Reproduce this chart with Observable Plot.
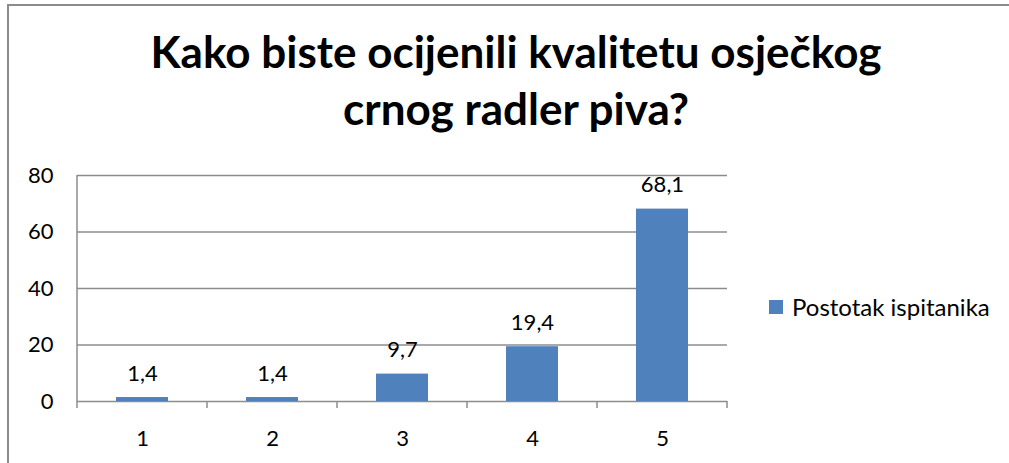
<!DOCTYPE html>
<html>
<head>
<meta charset="utf-8">
<script src="https://cdn.jsdelivr.net/npm/d3@7"></script>
<script src="https://cdn.jsdelivr.net/npm/@observablehq/plot@0.6"></script>
<style>
  html, body { margin: 0; padding: 0; background: #fff; overflow: hidden; }
  #wrap { position: relative; width: 1009px; height: 463px; overflow: hidden; font-family: Lato, "Open Sans", sans-serif; }
  #frame { position: absolute; left: 7px; top: 4px; width: 1100px; height: 600px; border-left: 2px solid #8c8c8c; border-top: 2px solid #8c8c8c; }
  #title { position: absolute; left: 0; width: 1032px; top: 23px; text-align: center; font-weight: bold; font-size: 44px; line-height: 57px; color: #000; }
  #chart { position: absolute; left: 0; top: 0; }
  #legend { position: absolute; left: 769px; top: 293px; font-size: 24px; line-height: 28px; color: #000; display: flex; align-items: center; white-space: nowrap; }
  #legend .sw { width: 14px; height: 14px; background: #4f81bd; margin-right: 9px; }
</style>
</head>
<body>
<div id="wrap">
  <div id="frame"></div>
  <div id="chart"></div>
  <div id="title">Kako biste ocijenili kvalitetu osječkog<br>crnog radler piva?</div>
  <div id="legend"><div class="sw"></div><span id="legendText"></span></div>
</div>
<script>
const categories = ["1", "2", "3", "4", "5"];
const values = [1.4, 1.4, 9.7, 19.4, 68.1];
const yTicks = [0, 20, 40, 60, 80];
const seriesName = "Postotak ispitanika";

const data = categories.map((c, i) => ({ cat: c, value: values[i] }));
const fmt = v => d3.format(".1f")(v).replace(".", ",");
const gray = "#8c8c8c";

document.getElementById("legendText").textContent = seriesName;

// boundary tick marks + left spine, derived from the band scale
function bandTicks(index, scales, values, dimensions) {
  const x = scales.x, y = scales.y;
  const step = x.step(), bw = x.bandwidth();
  const half = (step - bw) / 2;
  const xs = categories.map(c => x(c) - half);
  xs.push(x(categories[categories.length - 1]) + bw + half);
  const y0 = y(0);
  const g = d3.create("svg:g");
  g.selectAll("line").data(xs).join("line")
    .attr("x1", d => d).attr("x2", d => d)
    .attr("y1", y0).attr("y2", y0 + 7)
    .attr("stroke", gray).attr("stroke-width", 1.5);
  g.append("line")
    .attr("x1", xs[0]).attr("x2", xs[0])
    .attr("y1", y(yTicks[yTicks.length - 1])).attr("y2", y0)
    .attr("stroke", gray).attr("stroke-width", 1.5);
  return g.node();
}

const chart = Plot.plot({
  width: 1009,
  height: 463,
  marginLeft: 77,
  marginRight: 282,
  marginTop: 175,
  marginBottom: 62,
  style: { fontFamily: "Lato, 'Open Sans', sans-serif", fontSize: "22px", color: "#000", background: "transparent", overflow: "visible" },
  x: { domain: categories, paddingInner: 0.6, paddingOuter: 0.3, label: null },
  y: { domain: [0, 80], label: null },
  marks: [
    Plot.ruleY(yTicks, { stroke: gray, strokeWidth: 1.5 }),
    Plot.barY(data, { x: "cat", y: "value", fill: "#4f81bd" }),
    Plot.text(data, { x: "cat", y: "value", text: d => fmt(d.value), lineAnchor: "bottom", dy: -17, fontSize: 22, fill: "#000" }),
    Plot.axisY(yTicks, { tickSize: 0, tickPadding: 24, fontSize: 22, label: null }),
    Plot.axisX({ tickSize: 0, tickPadding: 29, fontSize: 22, label: null }),
    bandTicks
  ]
});
document.getElementById("chart").appendChild(chart);
</script>
</body>
</html>
